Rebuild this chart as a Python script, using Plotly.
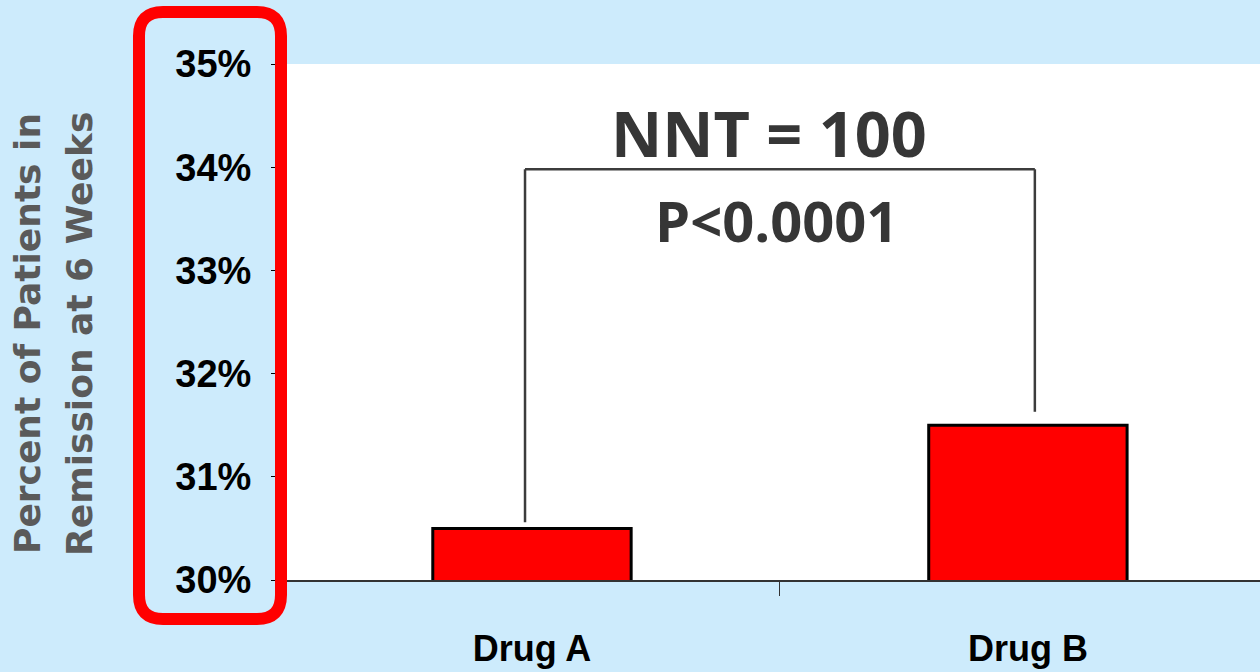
import plotly.graph_objects as go

# Remission rates at 6 weeks
categories = ["Drug A", "Drug B"]
remission = [30.5, 31.5]
y_ticks = [30, 31, 32, 33, 34, 35]
y_tick_labels = ["30%", "31%", "32%", "33%", "34%", "35%"]
nnt_label = "NNT = 100"
p_label = "P<0.0001"
title_lines = ["Percent of Patients in", "Remission at 6 Weeks"]

W, H = 1260, 672
ML, MR, MT, MB = 284, 0, 64, 92
PW, PH = W - ML - MR, H - MT - MB

BG = "#cdebfc"
SANS = "Liberation Sans, Arial, sans-serif"


def px_to_paper(x, y):
    return (x - ML) / PW, (H - MB - y) / PH


def rounded_rect_path(x0, y0, x1, y1, r):
    def P(x, y):
        px, py = px_to_paper(x, y)
        return f"{px:.5f},{py:.5f}"
    parts = [
        "M" + P(x0 + r, y0),
        "L" + P(x1 - r, y0),
        "Q" + P(x1, y0) + " " + P(x1, y0 + r),
        "L" + P(x1, y1 - r),
        "Q" + P(x1, y1) + " " + P(x1 - r, y1),
        "L" + P(x0 + r, y1),
        "Q" + P(x0, y1) + " " + P(x0, y1 - r),
        "L" + P(x0, y0 + r),
        "Q" + P(x0, y0) + " " + P(x0 + r, y0),
    ]
    return " ".join(parts) + " Z"


fig = go.Figure()

fig.add_trace(go.Bar(
    x=categories,
    y=remission,
    width=0.4,
    marker=dict(color="#ff0000", line=dict(color="#000000", width=3)),
    showlegend=False,
    hoverinfo="skip",
))

# Significance bracket linking the two bars (category index coordinates)
bracket_top = 33.98
bracket_x = [-0.014, -0.014, 1.014, 1.014]
bracket_y = [remission[0] + 0.06, bracket_top, bracket_top, remission[1] + 0.13]
for i in range(len(bracket_x) - 1):
    fig.add_shape(
        type="line", xref="x", yref="y",
        x0=bracket_x[i], y0=bracket_y[i], x1=bracket_x[i + 1], y1=bracket_y[i + 1],
        line=dict(color="#3c3c3c", width=2.5),
        layer="above",
    )

fig.add_annotation(
    x=0.477, y=34.34, xref="x", yref="y", text=f"<b>{nnt_label}</b>",
    showarrow=False, xanchor="center", yanchor="middle",
    font=dict(family="Open Sans", size=63, color="#363636"),
)
fig.add_annotation(
    x=0.494, y=33.49, xref="x", yref="y", text=f"<b>{p_label}</b>",
    showarrow=False, xanchor="center", yanchor="middle",
    font=dict(family="Open Sans", size=56, color="#363636"),
)

# Rotated y-axis title, one annotation per line
for line, cx in zip(title_lines, [27, 79]):
    px, py = px_to_paper(cx, 334)
    fig.add_annotation(
        x=px, y=py, xref="paper", yref="paper", text=f"<b>{line}</b>",
        showarrow=False, textangle=-90, xanchor="center", yanchor="middle",
        font=dict(family="DejaVu Sans", size=36, color="#5a5a5a"),
    )

# Red rounded frame around the y tick labels
fig.add_shape(
    type="path", xref="paper", yref="paper",
    path=rounded_rect_path(139, 12, 281, 619, 24),
    line=dict(color="#ff0000", width=12),
    fillcolor="rgba(0,0,0,0)", layer="above",
)

fig.update_layout(
    width=W, height=H,
    margin=dict(l=ML, r=MR, t=MT, b=MB, autoexpand=False),
    paper_bgcolor=BG,
    plot_bgcolor="#ffffff",
    xaxis=dict(
        type="category",
        range=[-0.5, 1.468],
        showgrid=False, zeroline=False,
        showline=True, linecolor="#333333", linewidth=1.5,
        ticks="outside", ticklen=14, tickcolor="#333333", tickwidth=1,
        tickson="boundaries",
        ticklabelstandoff=36,
        tickfont=dict(family=SANS, size=36, color="#000000", weight="bold"),
        fixedrange=True,
    ),
    yaxis=dict(
        range=[30, 35],
        tickvals=y_ticks, ticktext=y_tick_labels,
        showgrid=False, zeroline=False, showline=False,
        ticks="outside", ticklen=12, tickcolor="#000000", tickwidth=1,
        ticklabelstandoff=12,
        tickfont=dict(family=SANS, size=38, color="#000000", weight="bold"),
        fixedrange=True,
    ),
)

fig.write_html("out.html")
